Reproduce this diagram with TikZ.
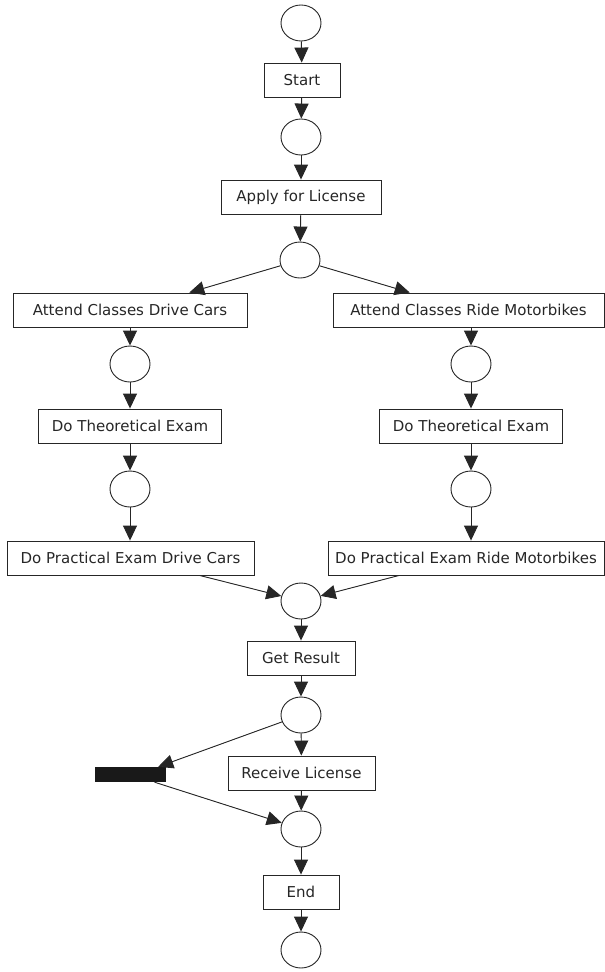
\documentclass[tikz,border=0pt]{standalone}
\usepackage{fontspec}
\setmainfont{DejaVu Sans}
\usetikzlibrary{arrows.meta,shapes.geometric}
\begin{document}
\begin{tikzpicture}[x=1pt,y=-1pt,
  place/.style={draw=black!85, line width=0.9pt, ellipse, minimum width=40pt, minimum height=36pt, inner sep=0pt},
  trans/.style={draw=black!85, line width=0.9pt, rectangle, minimum height=34pt, inner sep=0pt, text=black!85, font=\fontsize{15}{17}\selectfont},
  silent/.style={fill=black!90, draw=none, rectangle, minimum width=71pt, minimum height=15pt, inner sep=0pt},
  arc/.style={-{Triangle[width=14pt,length=15pt]}, line width=0.9pt, draw=black!85, fill=black!85}
]
\useasboundingbox (0,0) rectangle (605,972);

\node[place] (p1) at (301,23) {};
\node[trans, minimum width=76pt] (start) at (302,80) {Start};
\node[place] (p2) at (301,137) {};
\node[trans, minimum width=160pt] (apply) at (301,197) {Apply for License};
\node[place] (p3) at (300,260) {};
\node[trans, minimum width=234pt] (acl) at (130,310) {Attend Classes Drive Cars};
\node[trans, minimum width=271pt] (acr) at (468.5,310) {Attend Classes Ride Motorbikes};
\node[place] (p4l) at (130,364) {};
\node[place] (p4r) at (471,364) {};
\node[trans, minimum width=183pt] (tl) at (130,426) {Do Theoretical Exam};
\node[trans, minimum width=183pt] (tr) at (471,426) {Do Theoretical Exam};
\node[place] (p5l) at (130,489) {};
\node[place] (p5r) at (471,489) {};
\node[trans, minimum width=247pt] (pl) at (130.5,558) {Do Practical Exam Drive Cars};
\node[trans, minimum width=276pt] (pr) at (466,558) {Do Practical Exam Ride Motorbikes};
\node[place] (p6) at (301,601) {};
\node[trans, minimum width=108pt] (get) at (301,658) {Get Result};
\node[place] (p7) at (301,715) {};
\node[trans, minimum width=147pt] (recv) at (301.5,773) {Receive License};
\node[silent] (bar) at (130.5,774.5) {};
\node[place] (p8) at (301,829) {};
\node[trans, minimum width=76pt] (end) at (301,892) {End};
\node[place] (p9) at (301,950) {};

\draw[arc] (p1) -- (start);
\draw[arc] (start) -- (p2);
\draw[arc] (p2) -- (apply);
\draw[arc] (apply) -- (p3);
\draw[arc] (p3) -- (acl);
\draw[arc] (p3) -- (acr);
\draw[arc] (acl) -- (p4l);
\draw[arc] (acr.south -| p4r) -- (p4r);
\draw[arc] (p4l) -- (tl);
\draw[arc] (p4r) -- (tr);
\draw[arc] (tl) -- (p5l);
\draw[arc] (tr) -- (p5r);
\draw[arc] (p5l) -- (pl.north -| p5l);
\draw[arc] (p5r) -- (pr.north -| p5r);
\draw[arc] (pl) -- (p6);
\draw[arc] (pr) -- (p6);
\draw[arc] (p6) -- (get);
\draw[arc] (get) -- (p7);
\draw[arc] (p7) -- (recv);
\draw[arc] (p7) -- ([xshift=-8pt]bar.north east);
\draw[arc] (recv) -- (p8);
\draw[arc] (bar) -- (p8);
\draw[arc] (p8) -- (end);
\draw[arc] (end) -- (p9);
\end{tikzpicture}
\end{document}
